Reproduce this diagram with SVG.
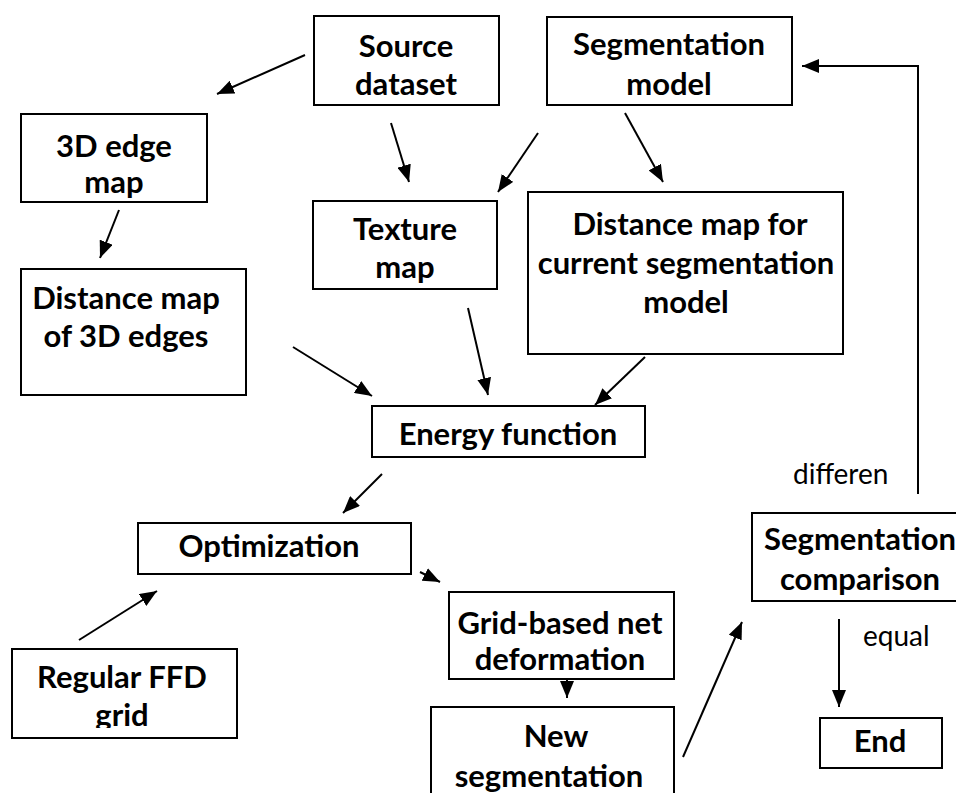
<svg xmlns="http://www.w3.org/2000/svg" width="956" height="793" viewBox="0 0 956 793">
<style>
.box{fill:#fff;stroke:#000;stroke-width:2}
.t{font-family:Lato,"Open Sans","Liberation Sans",sans-serif;font-weight:700;font-size:31px;text-anchor:middle;fill:#000}
.lbl{font-family:Lato,"Open Sans","Liberation Sans",sans-serif;font-weight:400;font-size:28px;fill:#000}
.c{fill:none;stroke:#000;stroke-width:2}
</style>
<defs>
<marker id="ah" markerUnits="userSpaceOnUse" markerWidth="18" markerHeight="14" refX="17" refY="7" orient="auto">
<path d="M0,0 L17,7 L0,14 z" fill="#000"/>
</marker>
<clipPath id="clipTex"><rect x="313" y="201" width="184" height="82"/></clipPath>
<clipPath id="clipFFD"><rect x="12" y="649" width="225" height="79"/></clipPath>
</defs>
<rect width="956" height="793" fill="#fff"/>

<g id="source">
<rect class="box" x="314" y="16" width="185" height="89"/>
<text class="t" x="406" y="57">Source</text>
<text class="t" x="406" y="95">dataset</text>
</g>
<g id="segmodel">
<rect class="box" x="547" y="17" width="245" height="88"/>
<text class="t" x="669" y="55">Segmentation</text>
<text class="t" x="669" y="95">model</text>
</g>
<g id="edgemap">
<rect class="box" x="21" y="114" width="186" height="88"/>
<text class="t" x="114" y="157">3D edge</text>
<text class="t" x="114" y="193">map</text>
</g>
<g id="texture">
<rect class="box" x="313" y="201" width="184" height="88"/>
<g clip-path="url(#clipTex)">
<text class="t" x="405" y="240">Texture</text>
<text class="t" x="405" y="278">map</text>
</g>
</g>
<g id="dmcurrent">
<rect class="box" x="528" y="192" width="315" height="162"/>
<text class="t" x="690" y="235">Distance map for</text>
<text class="t" x="686" y="274">current segmentation</text>
<text class="t" x="686" y="313">model</text>
</g>
<g id="dm3d">
<rect class="box" x="21" y="269" width="225" height="126"/>
<text class="t" x="126" y="309">Distance map</text>
<text class="t" x="126" y="347">of 3D edges</text>
</g>
<g id="energy">
<rect class="box" x="372" y="406" width="273" height="51"/>
<text class="t" x="508" y="445">Energy function</text>
</g>
<g id="optimization">
<rect class="box" x="138" y="523" width="273" height="51"/>
<text class="t" x="269" y="557">Optimization</text>
</g>
<g id="ffd">
<rect class="box" x="12" y="649" width="225" height="89"/>
<g clip-path="url(#clipFFD)">
<text class="t" x="122" y="688">Regular FFD</text>
<text class="t" x="122" y="726">grid</text>
</g>
</g>
<g id="gridnet">
<rect class="box" x="449" y="592" width="225" height="87"/>
<text class="t" x="560" y="634">Grid-based net</text>
<text class="t" x="560" y="670">deformation</text>
</g>
<g id="newseg">
<rect class="box" x="431" y="707" width="243" height="100"/>
<text class="t" x="556" y="747">New</text>
<text class="t" x="549" y="787">segmentation</text>
</g>
<g id="comparison">
<rect class="box" x="752" y="513" width="210" height="88"/>
<text class="t" x="860" y="550">Segmentation</text>
<text class="t" x="860" y="590">comparison</text>
</g>
<g id="end">
<rect class="box" x="820" y="718" width="122" height="50"/>
<text class="t" x="880" y="752">End</text>
</g>

<g id="labels">
<text class="lbl" x="793" y="484">differen</text>
<text class="lbl" x="863" y="646">equal</text>
</g>

<g id="connectors">
<line class="c" x1="305" y1="55" x2="217" y2="94" marker-end="url(#ah)"/>
<line class="c" x1="391" y1="123" x2="409" y2="182" marker-end="url(#ah)"/>
<line class="c" x1="538" y1="133" x2="498" y2="192" marker-end="url(#ah)"/>
<line class="c" x1="625" y1="113" x2="663" y2="182" marker-end="url(#ah)"/>
<line class="c" x1="119" y1="210" x2="100" y2="258" marker-end="url(#ah)"/>
<line class="c" x1="293" y1="347" x2="372" y2="396" marker-end="url(#ah)"/>
<line class="c" x1="468" y1="308" x2="488" y2="395" marker-end="url(#ah)"/>
<line class="c" x1="645" y1="357" x2="595" y2="405" marker-end="url(#ah)"/>
<line class="c" x1="382" y1="474" x2="343" y2="513" marker-end="url(#ah)"/>
<line class="c" x1="79" y1="640" x2="157" y2="591" marker-end="url(#ah)"/>
<line class="c" x1="420" y1="572" x2="440" y2="582" marker-end="url(#ah)"/>
<line class="c" x1="567" y1="679" x2="567" y2="698" marker-end="url(#ah)"/>
<line class="c" x1="683" y1="757" x2="742" y2="622" marker-end="url(#ah)"/>
<line class="c" x1="839" y1="619" x2="839" y2="707" marker-end="url(#ah)"/>
<polyline class="c" points="918,494 918,66 802,66" marker-end="url(#ah)"/>
</g>
</svg>
